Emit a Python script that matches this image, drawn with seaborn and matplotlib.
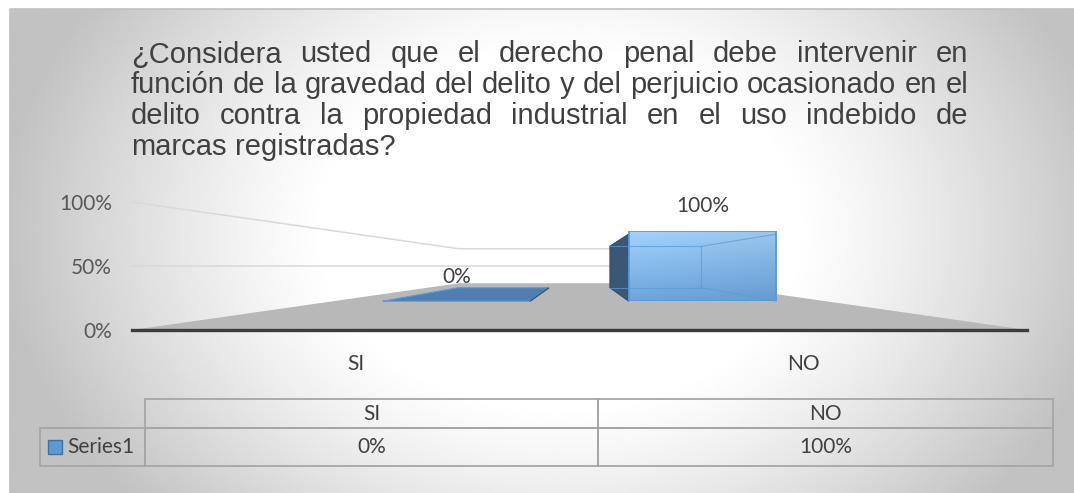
import numpy as np
import pandas as pd
import matplotlib
matplotlib.use("Agg")
import matplotlib.pyplot as plt
from matplotlib.patches import Polygon, Rectangle
import seaborn as sns

# ---------------- data ----------------
categories = ["SI", "NO"]
values = [0.0, 1.0]
value_labels = ["0%", "100%"]
series_name = "Series1"
y_ticks = [0.0, 0.5, 1.0]
y_tick_labels = ["0%", "50%", "100%"]
title_lines = [
    "¿Considera usted que el derecho penal debe intervenir en",
    "función de la gravedad del delito y del perjuicio ocasionado en el",
    "delito contra la propiedad industrial en el uso indebido de",
    "marcas registradas?",
]

# ---------------- layout / style ----------------
W, H, DPI = 1074, 493, 100
sns.set_theme(style="white")
plt.rcParams["font.family"] = ["Lato", "DejaVu Sans"]
TXT = "#404040"
FS = 15

fig = plt.figure(figsize=(W / DPI, H / DPI), dpi=DPI, facecolor="white")


def frac_rect(x0, y0, x1, y1):
    """pixel box (top-left origin) -> figure-fraction rect"""
    return [x0 / W, 1 - y1 / H, (x1 - x0) / W, (y1 - y0) / H]


# background with radial gradient
bg = fig.add_axes(frac_rect(10, 9, W, H), zorder=0)
gx = np.linspace(10, W, 400)
gy = np.linspace(9, H, 200)
X, Y = np.meshgrid(gx, gy)
t = np.sqrt(((X - 560) / 560) ** 2 + ((Y - 230) / 420) ** 2)
s = np.clip((t - 0.42) / 0.58, 0, 1)
shade = 1 - 0.24 * s ** 1.2
bg.imshow(shade, cmap="gray", vmin=0, vmax=1, extent=[10, W, H, 9],
          aspect="auto", interpolation="bilinear")
bg.set_xlim(10, W)
bg.set_ylim(H, 9)
bg.set_axis_off()

# pixel overlay axes
pix = fig.add_axes([0, 0, 1, 1], zorder=1)
pix.set_xlim(0, W)
pix.set_ylim(H, 0)
pix.set_axis_off()
pix.patch.set_alpha(0)
pix.plot([10, 10], [9, H], color="#c0c0c0", lw=1.2, solid_capstyle="butt")
pix.plot([10, W], [9, 9], color="#c0c0c0", lw=1.2, solid_capstyle="butt")

# front plane axes (value axis, category axis)
ax = fig.add_axes(frac_rect(132, 202, 1027, 330), zorder=2)
ax.set_facecolor("none")
ax.set_xlim(-0.5, len(categories) - 0.5)
ax.set_ylim(0, 1)
ax.set_yticks(y_ticks, y_tick_labels)
ax.set_xticks(range(len(categories)), categories)
for sp in ["top", "right", "left"]:
    ax.spines[sp].set_visible(False)
ax.spines["bottom"].set_color("#3c3c3c")
ax.spines["bottom"].set_linewidth(2.4)
ax.tick_params(axis="y", length=0, pad=14.4, labelsize=FS, labelcolor="#595959")
ax.tick_params(axis="x", length=0, pad=17.5, labelsize=FS, labelcolor=TXT)
ax.grid(False)


def ax2pix(axes, x, y):
    d = axes.transData.transform((x, y))
    return pix.transData.inverted().transform(d)


VP = ax2pix(ax, 0.5, 0.5)
S_BAR_FRONT, S_BAR_BACK, S_WALL = 0.55, 0.34, 0.27


def toward(p, s):
    return VP + s * (np.asarray(p, float) - VP)


# floor
xl, xr = ax.get_xlim()
f0, f1 = ax2pix(ax, xl, 0), ax2pix(ax, xr, 0)
floor = Polygon([f0, f1, toward(f1, S_WALL), toward(f0, S_WALL)], closed=True,
                facecolor="#b8b8b8", edgecolor="none", zorder=2)
pix.add_patch(floor)
# gridlines on side wall + back wall
for v in y_ticks:
    if v == 0:
        continue
    a = ax2pix(ax, xl, v)
    b = toward(a, S_WALL)
    c = toward(ax2pix(ax, xr, v), S_WALL)
    pix.plot([a[0], b[0], c[0]], [a[1], b[1], c[1]], color="#d9d9d9", lw=1.1, zorder=1)

# bar axes (front plane of the bars, perspective-scaled)
c0 = toward((132, 330), S_BAR_FRONT)
c1 = toward((1027, 202), S_BAR_FRONT)
bax = fig.add_axes(frac_rect(c0[0], c1[1], c1[0], c0[1]), zorder=3)
df = pd.DataFrame({"category": categories, "value": values})
sns.barplot(data=df, x="category", y="value", ax=bax, width=0.6, color="#7fb4e8",
            saturation=1, edgecolor="#5b9bd5", linewidth=1.3, errorbar=None)
bax.set_facecolor("none")

ratio = S_BAR_BACK / S_BAR_FRONT
top_c = np.array([0.64, 0.83, 0.99])
bot_c = np.array([0.42, 0.65, 0.87])
vv = np.linspace(0, 1, 60)[:, None, None]
uu = np.linspace(0, 1, 60)[None, :, None]
grad = (top_c * (1 - vv) + bot_c * vv) * (1 - 0.06 * uu)

for p in bax.patches:
    x, y0, w, h = p.get_x(), p.get_y(), p.get_width(), p.get_height()
    FLb, FRb = ax2pix(bax, x, y0), ax2pix(bax, x + w, y0)
    FLt, FRt = ax2pix(bax, x, y0 + h), ax2pix(bax, x + w, y0 + h)
    BLb, BRb, BLt, BRt = (VP + ratio * (q - VP) for q in (FLb, FRb, FLt, FRt))
    # top face
    bax.add_patch(Polygon([FLt, FRt, BRt, BLt], closed=True, transform=pix.transData,
                          facecolor="#4e7fb0", edgecolor="#5b9bd5", lw=0.8,
                          clip_on=False, zorder=1))
    # side face facing the viewer
    if (FLb[0] + FRb[0]) / 2 > VP[0]:
        side = [FLb, FLt, BLt, BLb]
    else:
        side = [FRb, FRt, BRt, BRb]
    bax.add_patch(Polygon(side, closed=True, transform=pix.transData,
                          facecolor="#3a5776", edgecolor="#34506e", lw=0.8,
                          clip_on=False, zorder=1.5))
    if h > 0:
        p.set_facecolor("none")
        p.set_zorder(3)
        im = bax.imshow(grad, extent=[x, x + w, y0, y0 + h], aspect="auto",
                        origin="upper", zorder=2, interpolation="bilinear")
        im.set_clip_path(p)
        # hidden edges seen through the translucent box
        for a_, b_ in [(BLt, BRt), (BRt, BRb), (BRb, BLb), (BRt, FRt), (BRb, FRb)]:
            bax.plot([a_[0], b_[0]], [a_[1], b_[1]], transform=pix.transData,
                     color="#5b9bd5", lw=0.8, alpha=0.7, clip_on=False, zorder=2.5)

bax.set_xlim(-0.5, len(categories) - 0.5)
bax.set_ylim(0, 1)
bax.bar_label(bax.containers[0], labels=value_labels, padding=10.5, fontsize=FS, color=TXT)
bax.set_axis_off()

# ---------------- title (justified) ----------------
renderer = fig.canvas.get_renderer()
title_kw = dict(fontsize=21, color=TXT, family=["Liberation Sans", "DejaVu Sans"])
TX0, TX1 = 131, 968
t1 = pix.text(0, 0, "n n", **title_kw)
t2 = pix.text(0, 0, "nn", **title_kw)
space_w = t1.get_window_extent(renderer).width - t2.get_window_extent(renderer).width
t1.remove()
t2.remove()
for i, line in enumerate(title_lines):
    base = 62.5 + i * 30.7
    words = line.split(" ")
    texts = [pix.text(0, base, wd, va="baseline", ha="left", **title_kw) for wd in words]
    widths = [tt.get_window_extent(renderer).width for tt in texts]
    if i < len(title_lines) - 1 and len(words) > 1:
        gap = (TX1 - TX0 - sum(widths)) / (len(words) - 1)
    else:
        gap = space_w
    xx = TX0
    for tt, wd in zip(texts, widths):
        tt.set_x(xx)
        xx += wd + gap

# ---------------- data table ----------------
# first column holds the series name; its header cell is left open (no borders)
tab = pix.table(cellText=[[series_name] + value_labels], colLabels=[""] + categories,
                cellLoc="center", colLoc="center",
                colWidths=[105 / W, 453 / W, 455 / W],
                bbox=[40 / W, 1 - 466 / H, 1013 / W, 67 / H])
tab.auto_set_font_size(False)
tab.set_fontsize(FS)
for (r, c), cell in tab.get_celld().items():
    cell.set_height((29 if r == 0 else 38) / H)
    cell.set_edgecolor("#a6a6a6")
    cell.set_linewidth(1.3)
    cell.set_facecolor("none")
    cell.get_text().set_color(TXT)
    cell.get_text().set_fontfamily(["Lato", "DejaVu Sans"])
    if r == 0 and c == 0:
        cell.visible_edges = ""
    if r == 1 and c == 0:
        cell._loc = "right"
        cell.get_text().set_horizontalalignment("right")
pix.add_patch(Rectangle((48, 440), 14, 14, facecolor="#5b9bd5", edgecolor="#41719c",
                        lw=1, zorder=5))

fig.savefig("out.png", dpi=DPI, facecolor="white")
